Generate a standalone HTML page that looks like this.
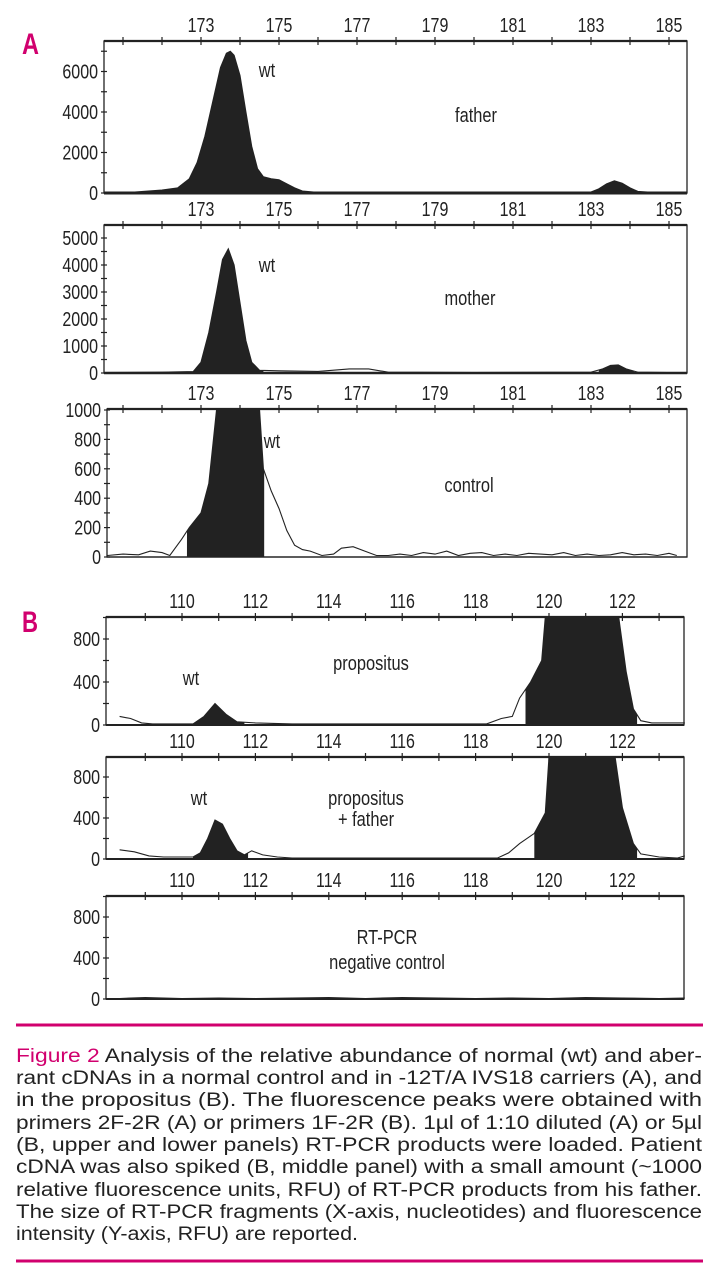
<!DOCTYPE html>
<html><head><meta charset="utf-8"><style>
html,body{margin:0;padding:0;background:#fff;}
svg{display:block;}
.t{font-family:"Liberation Sans Narrow","Liberation Sans",sans-serif;font-size:20px;fill:#222;}
.cap{font-family:"Liberation Sans",sans-serif;font-size:19px;fill:#222;}
</style></head><body>
<svg id="fig" width="714" height="1280" viewBox="0 0 714 1280" xmlns="http://www.w3.org/2000/svg">
<text x="22" y="54" textLength="17" lengthAdjust="spacingAndGlyphs" style="font-family:'Liberation Sans',sans-serif;font-weight:bold;font-size:30px;fill:#d1006e">A</text>
<text x="22" y="632" textLength="16" lengthAdjust="spacingAndGlyphs" style="font-family:'Liberation Sans',sans-serif;font-weight:bold;font-size:30px;fill:#d1006e">B</text>
<g id="charts"></g>
<line x1="16" y1="1025" x2="703" y2="1025" stroke="#d1006e" stroke-width="3"/>
<line x1="16" y1="1261" x2="703" y2="1261" stroke="#d1006e" stroke-width="3"/>
<g class="cap">
<text x="16" y="1062" textLength="686" lengthAdjust="spacingAndGlyphs"><tspan fill="#d1006e">Figure 2</tspan> Analysis of the relative abundance of normal (wt) and aber-</text>
<text x="16" y="1084" textLength="686" lengthAdjust="spacingAndGlyphs">rant cDNAs in a normal control and in -12T/A IVS18 carriers (A), and</text>
<text x="16" y="1106" textLength="686" lengthAdjust="spacingAndGlyphs">in the propositus (B). The fluorescence peaks were obtained with</text>
<text x="16" y="1129" textLength="686" lengthAdjust="spacingAndGlyphs">primers 2F-2R (A) or primers 1F-2R (B). 1µl of 1:10 diluted (A) or 5µl</text>
<text x="16" y="1151" textLength="686" lengthAdjust="spacingAndGlyphs">(B, upper and lower panels) RT-PCR products were loaded. Patient</text>
<text x="16" y="1173" textLength="686" lengthAdjust="spacingAndGlyphs">cDNA was also spiked (B, middle panel) with a small amount (~1000</text>
<text x="16" y="1196" textLength="686" lengthAdjust="spacingAndGlyphs">relative fluorescence units, RFU) of RT-PCR products from his father.</text>
<text x="16" y="1218" textLength="686" lengthAdjust="spacingAndGlyphs">The size of RT-PCR fragments (X-axis, nucleotides) and fluorescence</text>
<text x="16" y="1240" textLength="342" lengthAdjust="spacingAndGlyphs">intensity (Y-axis, RFU) are reported.</text>
</g>
</svg>
<script>
// ---- data (size in nt, fluorescence in RFU) ----
const fatherX = [170.5,171.3,172,172.4,172.7,172.9,173.1,173.3,173.5,173.65,173.75,173.85,174.0,174.15,174.3,174.45,174.6,174.8,175.0,175.2,175.4,175.6,176,178,180,182,183,183.2,183.4,183.6,183.8,184.0,184.2,184.5,185.2];
const fatherY = [0,50,150,250,700,1500,2800,4500,6200,6900,7000,6800,5800,4000,2300,1200,800,700,650,450,250,100,30,30,30,30,50,200,450,600,480,250,80,40,0];
const motherX = [170.5,172,172.8,173.0,173.2,173.4,173.55,173.7,173.85,174.0,174.15,174.3,174.5,175,176,176.8,177.3,177.8,180,183,183.3,183.5,183.7,183.9,184.2,185.2];
const motherY = [20,30,50,400,1500,3000,4200,4600,4000,2600,1200,400,100,80,60,150,150,30,20,30,150,280,300,150,30,10];
const controlX = [170.6,171,171.4,171.7,172,172.2,172.5,172.7,173,173.2,173.4,174.5,174.6,174.8,175,175.2,175.4,175.6,175.8,176.1,176.4,176.6,176.9,177.2,177.5,177.8,178.1,178.4,178.7,179,179.3,179.6,179.9,180.2,180.5,180.8,181.1,181.4,181.7,182,182.3,182.6,182.9,183.2,183.5,183.8,184.1,184.4,184.7,185,185.2];
const controlY = [10,20,15,40,30,10,120,200,300,500,1200,1200,600,450,330,180,80,50,40,10,20,60,70,40,10,10,20,10,30,20,40,10,25,30,10,20,10,25,20,15,30,10,20,10,15,30,15,20,10,25,10];
const probandX = [108.3,108.6,108.9,109.2,110.3,110.6,110.9,111.2,111.5,112,112.5,113,118.3,118.7,119,119.2,119.5,119.8,119.9,121.9,122.1,122.3,122.5,122.8,123.7];
const probandY = [80,60,20,10,10,80,200,100,30,20,15,10,10,60,80,250,400,600,1200,1200,500,150,40,20,20];
const spikedX = [108.3,108.7,109.1,109.5,110.3,110.5,110.7,110.9,111.1,111.3,111.5,111.7,111.9,112.2,112.6,113,118.6,118.9,119.2,119.6,119.9,120,121.8,122,122.3,122.5,123,123.5,123.7];
const spikedY = [90,70,30,20,20,60,200,380,340,200,80,40,80,40,20,10,10,60,150,250,450,1200,1200,500,150,50,20,10,30];
const negX = [108.3,109,110,111,112,113,114,115,116,117,118,119,120,121,122,123,123.7];
const negY = [5,15,5,10,5,10,15,5,15,10,5,10,5,15,10,5,10];
const ticksA = [173,175,177,179,181,183,185];
const ticksB = [110,112,114,116,118,120,122];

const NS = "http://www.w3.org/2000/svg";
const root = document.getElementById('charts');
function mk(tag, attrs, parent){const e=document.createElementNS(NS,tag);for(const k in attrs)e.setAttribute(k,attrs[k]);(parent||root).appendChild(e);return e;}
function narrow(t, f){const w=t.getComputedTextLength();if(w>0){t.setAttribute('textLength',(w*f).toFixed(1));t.setAttribute('lengthAdjust','spacingAndGlyphs');}}

function panel(cfg){
  const g = mk('g',{});
  
  
  const xs = v => cfg.x0 + (v - cfg.v0) * cfg.unit;
  const ys = v => cfg.bot - Math.min(v, cfg.ymax) * cfg.ppu;
  const fr = mk('rect',{x:cfg.L,y:cfg.top,width:cfg.R-cfg.L,height:cfg.bot-cfg.top,fill:'none',stroke:'#222','stroke-width':1.3},g);
  
  
  mk('line',{x1:cfg.L,y1:cfg.top,x2:cfg.R,y2:cfg.top,stroke:'#222','stroke-width':2.2},g);
  for(let v=Math.ceil(cfg.vmin); v<=cfg.vmax; v++){
    const x=xs(v); if(x<cfg.L+3||x>cfg.R-2) continue;
    mk('line',{x1:x,y1:cfg.top-4,x2:x,y2:cfg.top+4,stroke:'#222','stroke-width':1.2},g);
  }
  cfg.ticks.forEach(v=>{
    const t=mk('text',{x:xs(v),y:cfg.top-9,'text-anchor':'middle',class:'t'},g);
    t.textContent=v;
    
    
    narrow(t,0.8);
  });
  for(let v=0; v<=cfg.ymax+1e-6; v+=cfg.minor){
    const y=cfg.bot - v*cfg.ppu; if(y<cfg.top-1) break;
    mk('line',{x1:cfg.L-3,y1:y,x2:cfg.L+3,y2:y,stroke:'#222','stroke-width':1.2},g);
  }
  cfg.yticks.forEach(v=>{
    const t=mk('text',{x:cfg.L-6,y:cfg.bot - v*cfg.ppu+7,'text-anchor':'end',class:'t'},g);
    t.textContent=v;
    
    
    narrow(t,0.8);
  });
  const X=cfg.X, Y=cfg.Y;
  function interp(v){for(let i=0;i<X.length-1;i++){if(v>=X[i]&&v<=X[i+1]){return Y[i]+(Y[i+1]-Y[i])*(v-X[i])/(X[i+1]-X[i]);}}return 0;}
  cfg.fills.forEach(f=>{
    let pts=[[f[0],interp(f[0])]];
    for(let i=0;i<X.length;i++) if(X[i]>f[0]&&X[i]<f[1]) pts.push([X[i],Y[i]]);
    pts.push([f[1],interp(f[1])]);
    let d='M'+xs(f[0])+','+cfg.bot+' '+pts.map(p=>'L'+xs(p[0]).toFixed(1)+','+ys(p[1]).toFixed(1)).join(' ')+' L'+xs(f[1])+','+cfg.bot+'Z';
    const p=mk('path',{d:d,fill:'#222'},g);
    
    
  });
  const tr=mk('path',{d:X.map((v,i)=>(i?'L':'M')+xs(v).toFixed(1)+','+ys(Y[i]).toFixed(1)).join(' '),fill:'none',stroke:'#222','stroke-width':1.1},g);
  
  
  mk('line',{x1:cfg.L,y1:cfg.bot,x2:cfg.R,y2:cfg.bot,stroke:'#222','stroke-width':cfg.thick||1.3},g);
  cfg.labels.forEach(l=>{
    const t=mk('text',{x:l[1],y:l[2],'text-anchor':'middle',class:'t'},g);
    t.textContent=l[0];
    
    
    narrow(t,0.82);
  });
}

const A = {x0:279,v0:175,unit:39,vmin:170.5,vmax:185.3,L:104,R:687,ticks:ticksA};
const B = {x0:549,v0:120,unit:36.7,vmin:108.3,vmax:123.7,L:106,R:684,ticks:ticksB};

panel(Object.assign({},A,{name:'father-panel',top:41,bot:193,ppu:40.5/2000,ymax:7500,minor:1000,yticks:[0,2000,4000,6000],X:fatherX,Y:fatherY,fills:[[171.3,175.6],[183,184.3]],thick:3,
  labels:[['wt',267,77],['father',476,122]]}));
panel(Object.assign({},A,{name:'mother-panel',top:225,bot:373,ppu:27/1000,ymax:5480,minor:500,yticks:[0,1000,2000,3000,4000,5000],X:motherX,Y:motherY,fills:[[172.6,174.6],[183.2,184.1]],thick:2.5,
  labels:[['wt',267,272],['mother',470,305]]}));
panel(Object.assign({},A,{name:'control-panel',L:107,top:409,bot:557,ppu:147/1000,ymax:1005,minor:100,yticks:[0,200,400,600,800,1000],X:controlX,Y:controlY,fills:[[172.64,174.62]],
  labels:[['wt',272,448],['control',469,492]]}));
panel(Object.assign({},B,{name:'propositus-panel',top:617,bot:725,ppu:43/400,ymax:1005,minor:200,yticks:[0,400,800],X:probandX,Y:probandY,fills:[[110.3,111.7],[119.36,122.4]],thick:2,
  labels:[['wt',191,685],['propositus',371,670]]}));
panel(Object.assign({},B,{name:'propositus-father-panel',top:757,bot:859,ppu:41/400,ymax:995,minor:200,yticks:[0,400,800],X:spikedX,Y:spikedY,fills:[[110.3,111.8],[119.6,122.4]],thick:2,
  labels:[['wt',199,805],['propositus',366,805],['+ father',366,826]]}));
panel(Object.assign({},B,{name:'negative-control-panel',top:896,bot:999,ppu:41/400,ymax:1005,minor:200,yticks:[0,400,800],X:negX,Y:negY,fills:[],thick:2,
  labels:[['RT-PCR',387,944],['negative control',387,969]]}));
</script>
</body></html>
